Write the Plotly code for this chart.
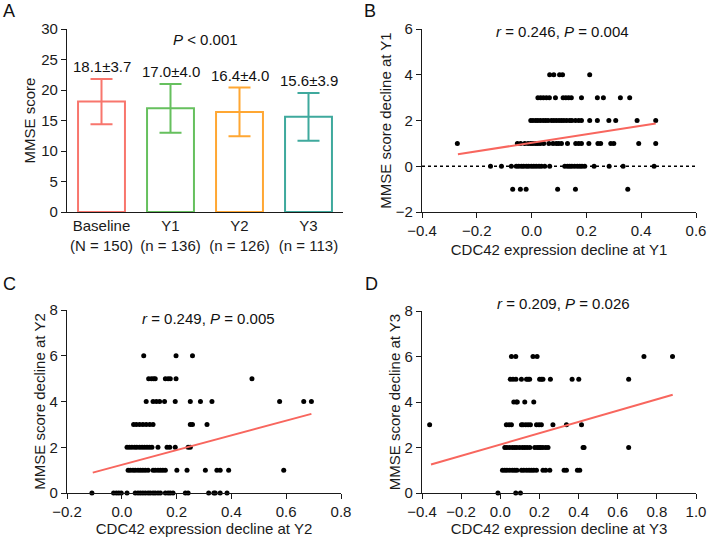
import plotly.graph_objects as go

# ---------------- Data ----------------
# Panel A: MMSE score by visit
a_groups = ["Baseline", "Y1", "Y2", "Y3"]
a_n_labels = ["(N = 150)", "(n = 136)", "(n = 126)", "(n = 113)"]
a_means = [18.1, 17.0, 16.4, 15.6]
a_sds = [3.7, 4.0, 4.0, 3.9]
a_colors = ["#F8766D", "#66C05E", "#FFA733", "#3FA99D"]

# Panel B: MMSE decline vs CDC42 decline at Y1 (rows by MMSE decline value)
b_levels = [4, 3, 2, 1, 0, -1]
b_x_rows = [
    [0.066, 0.081, 0.102, 0.113, 0.212],
    [0.023, 0.033, 0.043, 0.054, 0.065, 0.087, 0.115, 0.125, 0.135, 0.145, 0.182, 0.240, 0.262, 0.324, 0.358],
    [-0.003, 0.005, 0.015, 0.023, 0.032, 0.042, 0.051, 0.060, 0.072, 0.081, 0.090, 0.100, 0.109, 0.118, 0.128,
     0.139, 0.147, 0.160, 0.172, 0.182, 0.212, 0.240, 0.282, 0.307, 0.385, 0.453],
    [-0.271, -0.052, -0.040, -0.025, -0.013, -0.003, 0.005, 0.015, 0.023, 0.032, 0.044, 0.063, 0.078, 0.090,
     0.099, 0.109, 0.131, 0.161, 0.172, 0.182, 0.209, 0.242, 0.252, 0.289, 0.300, 0.391, 0.453],
    [-0.150, -0.110, -0.074, -0.056, -0.047, -0.037, -0.029, -0.019, -0.011, -0.001, 0.008, 0.017, 0.027, 0.036,
     0.048, 0.066, 0.121, 0.131, 0.139, 0.147, 0.157, 0.167, 0.176, 0.184, 0.194, 0.228, 0.283, 0.334, 0.447],
    [-0.069, -0.041, -0.020, 0.095, 0.160, 0.351],
]
b_fit_x = [-0.269, 0.453]
b_fit_y = [0.526, 1.87]

# Panel C: at Y2
c_levels = [6, 5, 4, 3, 2, 1, 0]
c_x_rows = [
    [0.080, 0.198, 0.258],
    [0.098, 0.108, 0.116, 0.122, 0.159, 0.169, 0.177, 0.198, 0.475],
    [0.089, 0.114, 0.126, 0.138, 0.156, 0.195, 0.250, 0.287, 0.329, 0.576, 0.664, 0.692],
    [0.043, 0.053, 0.065, 0.077, 0.089, 0.102, 0.114, 0.250, 0.258, 0.311],
    [0.019, 0.028, 0.037, 0.047, 0.055, 0.065, 0.074, 0.083, 0.092, 0.101, 0.110, 0.132, 0.165, 0.175, 0.195,
     0.242, 0.250],
    [0.023, 0.031, 0.041, 0.049, 0.059, 0.068, 0.077, 0.086, 0.096, 0.114, 0.122, 0.132, 0.141, 0.150, 0.159,
     0.201, 0.238, 0.305, 0.347, 0.359, 0.390, 0.591],
    [-0.109, -0.030, -0.020, -0.011, -0.002, 0.019, 0.049, 0.059, 0.068, 0.077, 0.086, 0.096, 0.104, 0.114,
     0.122, 0.132, 0.141, 0.159, 0.169, 0.177, 0.187, 0.232, 0.242, 0.317, 0.336, 0.341, 0.359, 0.384],
]
c_fit_x = [-0.106, 0.692]
c_fit_y = [0.89, 3.46]

# Panel D: at Y3
d_levels = [6, 5, 4, 3, 2, 1, 0]
d_x_rows = [
    [0.057, 0.079, 0.167, 0.188, 0.734, 0.880],
    [0.051, 0.065, 0.080, 0.108, 0.134, 0.142, 0.150, 0.201, 0.210, 0.218, 0.256, 0.367, 0.401, 0.656],
    [0.069, 0.082, 0.087, 0.125, 0.171],
    [-0.361, 0.031, 0.045, 0.057, 0.108, 0.116, 0.130, 0.142, 0.154, 0.185, 0.198, 0.210, 0.269, 0.338, 0.415],
    [0.023, 0.034, 0.048, 0.062, 0.074, 0.085, 0.099, 0.113, 0.125, 0.137, 0.151, 0.176, 0.188, 0.198, 0.207,
     0.218, 0.232, 0.244, 0.423, 0.428, 0.656],
    [0.011, 0.023, 0.034, 0.048, 0.062, 0.074, 0.085, 0.108, 0.120, 0.134, 0.147, 0.159, 0.171, 0.185, 0.218,
     0.232, 0.253, 0.326, 0.338, 0.394, 0.406],
    [-0.012, 0.079, 0.103],
]
d_fit_x = [-0.354, 0.881]
d_fit_y = [1.25, 4.32]

stats_text = {
    "B": "<i>r</i> = 0.246, <i>P</i> = 0.004",
    "C": "<i>r</i> = 0.249, <i>P</i> = 0.005",
    "D": "<i>r</i> = 0.209, <i>P</i> = 0.026",
}

# ---------------- Figure ----------------
FONT = "Liberation Sans, Arial, sans-serif"
W, H = 709, 542
fig = go.Figure()

# Panel A bars
for i, g in enumerate(a_groups):
    fig.add_trace(go.Bar(
        x=[g], y=[a_means[i]], width=0.68,
        marker=dict(color="white", line=dict(color=a_colors[i], width=2)),
        error_y=dict(type="data", array=[a_sds[i]], color=a_colors[i], thickness=2, width=11),
        xaxis="x", yaxis="y", showlegend=False,
    ))
    fig.add_annotation(
        x=g, y=a_means[i] + a_sds[i], xref="x", yref="y", yanchor="bottom", yshift=2,
        text=f"{a_means[i]:.1f}±{a_sds[i]:.1f}", showarrow=False,
        font=dict(size=15, color="#111", family=FONT),
    )


def expand(levels, rows):
    xs, ys = [], []
    for lvl, row in zip(levels, rows):
        xs.extend(row)
        ys.extend([lvl] * len(row))
    return xs, ys


for key, levels, rows, fx, fy, ax in [
    ("B", b_levels, b_x_rows, b_fit_x, b_fit_y, "2"),
    ("C", c_levels, c_x_rows, c_fit_x, c_fit_y, "3"),
    ("D", d_levels, d_x_rows, d_fit_x, d_fit_y, "4"),
]:
    xs, ys = expand(levels, rows)
    fig.add_trace(go.Scatter(
        x=xs, y=ys, mode="markers", marker=dict(color="black", size=5),
        xaxis="x" + ax, yaxis="y" + ax, showlegend=False, cliponaxis=False,
    ))
    fig.add_trace(go.Scatter(
        x=fx, y=fy, mode="lines", line=dict(color="#F8665E", width=2),
        xaxis="x" + ax, yaxis="y" + ax, showlegend=False,
    ))

# dotted zero line in panel B
fig.add_shape(type="line", xref="x2 domain", yref="y2", x0=0, x1=1, y0=0, y1=0,
              line=dict(color="black", width=1.3, dash="dot"))

# Layout geometry (pixel based)
def dx(p0, p1):
    return [p0 / W, p1 / W]


def dy(top, bottom):
    return [1 - bottom / H, 1 - top / H]


axis_common = dict(
    showline=True, linecolor="#1a1a1a", linewidth=1.3, ticks="outside", ticklen=5,
    tickwidth=1.3, tickcolor="#1a1a1a", showgrid=False, zeroline=False, automargin=False,
    tickfont=dict(size=15, color="#1a1a1a", family=FONT),
    title_font=dict(size=15, color="#1a1a1a", family=FONT),
)

fig.update_layout(
    width=W, height=H,
    margin=dict(l=0, r=0, t=0, b=0, autoexpand=False),
    paper_bgcolor="white", plot_bgcolor="white",
    barmode="overlay",
    font=dict(family=FONT, color="#1a1a1a"),
    xaxis=dict(axis_common, domain=dx(67, 343), anchor="y", range=[-0.5, 3.5], ticks="",
               tickvals=a_groups,
               ticktext=[f"{g}<br>{n}" for g, n in zip(a_groups, a_n_labels)]),
    yaxis=dict(axis_common, domain=dy(29, 212), anchor="x", range=[0, 30], dtick=5,
               title=dict(text="MMSE score", standoff=1)),
    xaxis2=dict(axis_common, domain=dx(422, 696), anchor="y2", range=[-0.4, 0.6], dtick=0.2,
                tickformat=".1f", title=dict(text="CDC42 expression decline at Y1", standoff=6)),
    yaxis2=dict(axis_common, domain=dy(29, 212), anchor="x2", range=[-2, 6], dtick=2,
                title=dict(text="MMSE score decline at Y1", standoff=0)),
    xaxis3=dict(axis_common, domain=dx(67, 341), anchor="y3", range=[-0.2, 0.8], dtick=0.2,
                tickformat=".1f", title=dict(text="CDC42 expression decline at Y2", standoff=4)),
    yaxis3=dict(axis_common, domain=dy(310, 493), anchor="x3", range=[0, 8], dtick=2,
                title=dict(text="MMSE score decline at Y2", standoff=0)),
    xaxis4=dict(axis_common, domain=dx(422, 696), anchor="y4", range=[-0.4, 1.0], dtick=0.2,
                tickformat=".1f", title=dict(text="CDC42 expression decline at Y3", standoff=4)),
    yaxis4=dict(axis_common, domain=dy(311, 493), anchor="x4", range=[0, 8], dtick=2,
                title=dict(text="MMSE score decline at Y3", standoff=0)),
)

# Stats annotations
ann_font = dict(size=15, family=FONT, color="#111")
fig.add_annotation(xref="x domain", yref="y domain", x=0.5, y=0.945, text="<i>P</i> &lt; 0.001",
                   showarrow=False, xanchor="center", yanchor="middle", font=ann_font)
fig.add_annotation(xref="x2 domain", yref="y2 domain", x=0.511, y=0.984, text=stats_text["B"],
                   showarrow=False, xanchor="center", yanchor="middle", font=ann_font)
fig.add_annotation(xref="x3 domain", yref="y3 domain", x=0.515, y=0.952, text=stats_text["C"],
                   showarrow=False, xanchor="center", yanchor="middle", font=ann_font)
fig.add_annotation(xref="x4 domain", yref="y4 domain", x=0.518, y=1.042, text=stats_text["D"],
                   showarrow=False, xanchor="center", yanchor="middle", font=ann_font)

# Panel letters
for letter, px, py in [("A", 9, 11), ("B", 370, 11), ("C", 9, 284), ("D", 371, 284)]:
    fig.add_annotation(xref="paper", yref="paper", x=px / W, y=1 - py / H, text=letter,
                       showarrow=False, xanchor="center", yanchor="middle",
                       font=dict(size=18, family=FONT, color="#111"))

fig.write_html(
    "out.html",
    config={"displayModeBar": False},
    post_script="document.body.style.margin='0';document.body.style.overflow='hidden';",
)
